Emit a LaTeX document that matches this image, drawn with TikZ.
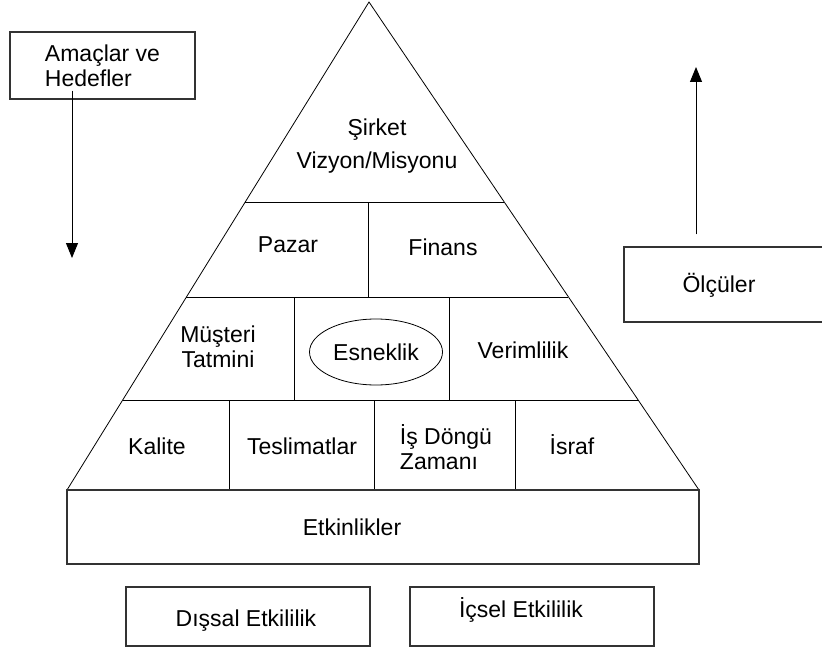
\documentclass[tikz,border=0pt]{standalone}
\usepackage{fontspec}
\setmainfont{Liberation Sans}
\usetikzlibrary{arrows.meta,calc,shapes.geometric}
\tikzset{
  lbl/.style={font=\fontsize{23}{25}\selectfont, align=center, inner sep=0pt},
  kutu/.style={draw=black!80, line width=1.2pt, inner sep=0pt},
  ok/.style={-{Triangle[width=12pt,length=15pt]}, line width=1pt},
}
\begin{document}
\begin{tikzpicture}[x=1pt,y=-1pt,line width=0.8pt]
\useasboundingbox (0,0) rectangle (822,650);
% piramit
\coordinate (tepe) at (369,2);
\coordinate (solalt) at (67,490);
\coordinate (sagalt) at (699,490);
\draw (solalt) -- (tepe) -- (sagalt);
\draw ($(tepe)!0.4098!(solalt)$) -- ($(tepe)!0.4098!(sagalt)$);
\draw ($(tepe)!0.6045!(solalt)$) -- ($(tepe)!0.6045!(sagalt)$);
\draw ($(tepe)!0.8156!(solalt)$) -- ($(tepe)!0.8156!(sagalt)$);
\draw (368,202) -- (368,297);
\draw (294,297) -- (294,400)  (449,297) -- (449,400);
\draw (229,400) -- (229,490)  (374,400) -- (374,490)  (515,400) -- (515,490);
\node[kutu, minimum width=632, minimum height=74] (etk) at (383,527) {};
% katmanlar
\node[lbl, font=\fontsize{23}{33}\selectfont] (sirket) at (377,146) {Şirket\\Vizyon/Misyonu};
\node[lbl] (pazar) at (288,245) {Pazar};
\node[lbl] (finans) at (443,247) {Finans};
\node[lbl] (musteri) at (218,347) {Müşteri\\Tatmini};
\node[lbl, draw, ellipse, minimum width=133, minimum height=66] (esnek) at (376,352) {Esneklik};
\node[lbl] (verim) at (523,350) {Verimlilik};
\node[lbl] (kalite) at (157,446) {Kalite};
\node[lbl] (teslim) at (302,446) {Teslimatlar};
\node[lbl, align=left] (dongu) at (446,447) {İş Döngü\\Zamanı};
\node[lbl] (israf) at (572,445) {İsraf};
\node[lbl] (etkyazi) at (352,527) {Etkinlikler};
% yan kutular
\node[kutu, lbl, align=left, minimum width=185, minimum height=67] (amac) at (102.5,65.5) {Amaçlar ve\\Hedefler};
\coordinate (amacuc) at (72,258);
\draw[ok] ($(amac.south -| amacuc)+(0,-9)$) -- (amacuc);
\node[kutu, minimum width=206, minimum height=75] (olcu) at (727,284.5) {};
\node[lbl] (olcuyazi) at (719,285) {Ölçüler};
\coordinate (olcuuc) at (696,67);
\draw[ok] ($(olcu.north -| olcuuc)+(0,-12)$) -- (olcuuc);
% alt kutular
\node[kutu, minimum width=244, minimum height=59] (dis) at (248,616.5) {};
\node[lbl] (disyazi) at (246,621) {Dışsal Etkililik};
\node[kutu, minimum width=244, minimum height=59] (ic) at (532,616.5) {};
\node[lbl] (icyazi) at (521,610) {İçsel Etkililik};
\end{tikzpicture}
\end{document}
